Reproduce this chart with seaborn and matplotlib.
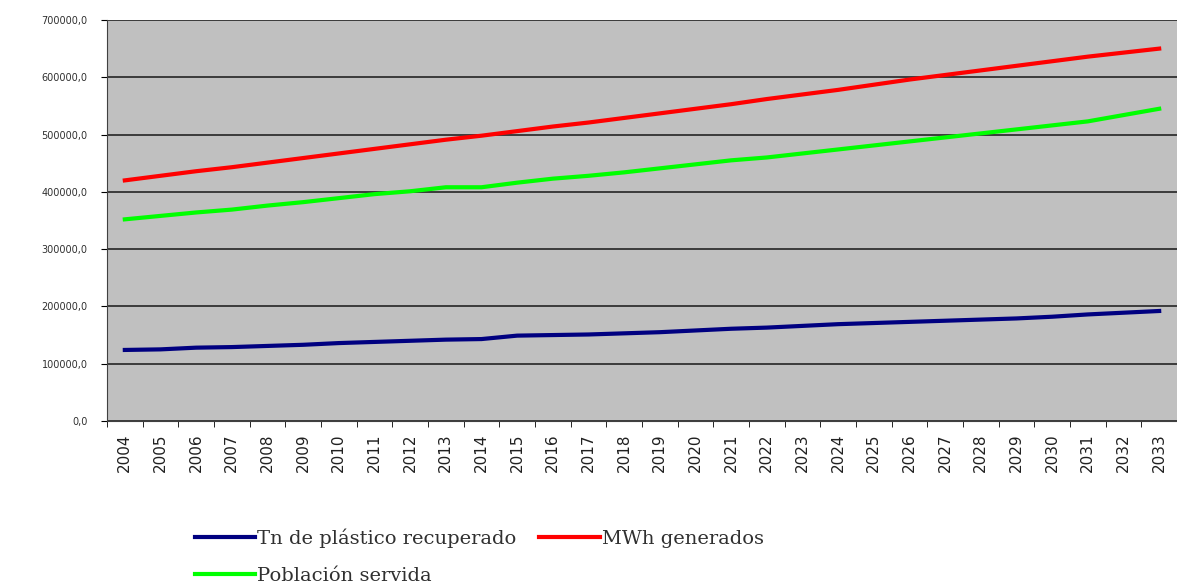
import matplotlib
matplotlib.use("Agg")
import matplotlib.pyplot as plt
import seaborn as sns
import pandas as pd
import numpy as np
from matplotlib.ticker import FuncFormatter, MultipleLocator

# Datos
years = list(range(2004, 2034))
plastico = [124000, 125000, 128000, 129000, 131000, 133000, 136000, 138000, 140000, 142000,
            143000, 149000, 150000, 151000, 153000, 155000, 158000, 161000, 163000, 166000,
            169000, 171000, 173000, 175000, 177000, 179000, 182000, 186000, 189000, 192000]
mwh = [420000, 428000, 436000, 443000, 451000, 459000, 467000, 475000, 483000, 491000,
       498000, 506000, 514000, 521000, 529000, 537000, 545000, 553000, 562000, 570000,
       578000, 587000, 596000, 604000, 612000, 620000, 628000, 636000, 643000, 650000]
poblacion = [352000, 358000, 364000, 369000, 376000, 382000, 389000, 396000, 401000, 408000,
             408000, 416000, 423000, 428000, 434000, 441000, 448000, 455000, 460000, 467000,
             474000, 481000, 488000, 495000, 502000, 509000, 516000, 523000, 534000, 545000]

labels = ["Tn de plástico recuperado", "MWh generados", "Población servida"]
colors = ["#000080", "#ff0000", "#00ff00"]

df = pd.DataFrame({"year": years, labels[0]: plastico, labels[1]: mwh, labels[2]: poblacion})
df = df.melt(id_vars="year", var_name="serie", value_name="valor")

fig = plt.figure(figsize=(11.77, 5.86), dpi=100)
ax = fig.add_axes([0.0909, 0.2816, 0.9091, 0.6843])
ax.set_facecolor("#c0c0c0")

sns.lineplot(data=df, x="year", y="valor", hue="serie", hue_order=labels,
             palette=colors, linewidth=3, ax=ax, legend=False)

ax.set_xlim(2003.5, 2033.5)
ax.set_ylim(0, 700000)
ax.yaxis.set_major_locator(MultipleLocator(100000))
ax.yaxis.set_major_formatter(FuncFormatter(lambda v, p: f"{v:.1f}".replace(".", ",")))
ax.set_xticks(years)
ax.set_xticklabels([str(y) for y in years], rotation=90, fontsize=11,
                   family="DejaVu Sans", color="#202020")
ax.set_xticks(np.arange(2003.5, 2034, 1), minor=True)
ax.tick_params(axis="x", which="major", length=0, pad=9)
ax.tick_params(axis="x", which="minor", length=4, color="black")
ax.tick_params(axis="y", length=4, labelsize=7, pad=10, labelcolor="#303030")
ax.grid(axis="y", color="#303030", linewidth=1.3)
ax.set_axisbelow(True)
ax.set_xlabel("")
ax.set_ylabel("")
for s in ["top", "right"]:
    ax.spines[s].set_visible(False)
ax.spines["left"].set_color("#404040")
ax.spines["bottom"].set_color("#404040")

handles = [plt.Line2D([], [], color=c, linewidth=3) for c in colors]
order = [0, 2, 1]
leg = fig.legend([handles[i] for i in order], [labels[i] for i in order],
                 loc="upper left", bbox_to_anchor=(0.157, 0.115), ncol=2, frameon=False,
                 prop={"family": "DejaVu Serif", "size": 14}, handlelength=3.1,
                 handletextpad=0.1, columnspacing=1.2, labelspacing=1.0, borderpad=0)
for t in leg.get_texts():
    t.set_color("#303030")

fig.savefig("out.png", dpi=100)
